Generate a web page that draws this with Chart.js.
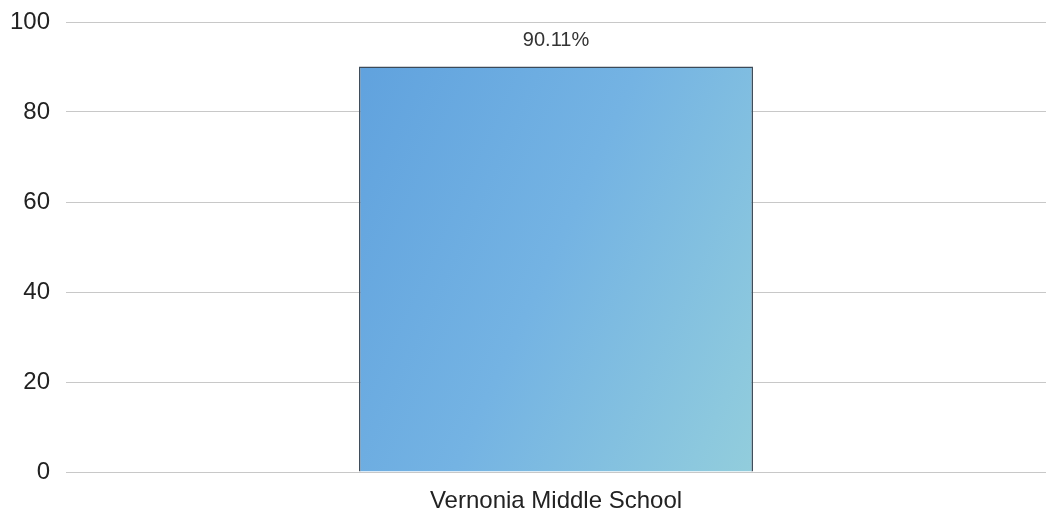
<!DOCTYPE html>
<html>
<head>
<meta charset="utf-8">
<script src="https://cdn.jsdelivr.net/npm/chart.js@4/dist/chart.umd.min.js"></script>
<style>
  html, body { margin: 0; padding: 0; background: #fff; }
  #wrap { width: 1046px; height: 516px; }
</style>
</head>
<body>
<div id="wrap"><canvas id="chart"></canvas></div>
<script>
const categories = ['Vernonia Middle School'];
const values = [90.11];
const yTicks = [0, 20, 40, 60, 80, 100];

// gradient fill like the original (blue top-left -> teal bottom-right)
function barFill(ctx) {
    const chart = ctx.chart;
    const area = chart.chartArea;
    if (!area) return '#72b2e2';
    const el = ctx.element;
    let x0 = area.left, x1 = area.right, y0 = area.top, y1 = area.bottom;
    if (el && el.width) {
        x0 = el.x - el.width / 2; x1 = el.x + el.width / 2;
        y0 = el.y; y1 = el.base;
    }
    const g = chart.ctx.createLinearGradient(x0, y0, x1, y1);
    g.addColorStop(0, '#4a8fd8');
    g.addColorStop(0.5, '#74b3e3');
    g.addColorStop(0.7, '#8cc8de');
    g.addColorStop(1, '#aee4d2');
    return g;
}

const valueLabels = {
    id: 'valueLabels',
    afterDatasetsDraw(chart) {
        const ctx = chart.ctx;
        const meta = chart.getDatasetMeta(0);
        ctx.save();
        ctx.font = '20px "Liberation Sans", Arial, sans-serif';
        ctx.fillStyle = '#333';
        ctx.textAlign = 'center';
        ctx.textBaseline = 'middle';
        meta.data.forEach((bar, i) => {
            ctx.fillText(values[i].toFixed(2) + '%', bar.x, bar.y - 26);
        });
        ctx.restore();
    }
};

new Chart(document.getElementById('chart'), {
    type: 'bar',
    data: {
        labels: categories,
        datasets: [{
            data: values,
            backgroundColor: barFill,
            borderColor: '#3c4a58',
            borderWidth: 1.5,
            barPercentage: 0.402,
            categoryPercentage: 1
        }]
    },
    options: {
        responsive: true,
        maintainAspectRatio: false,
        animation: false,
        layout: { padding: { top: 0, right: 0, left: 10, bottom: 0 } },
        plugins: { legend: { display: false }, tooltip: { enabled: false } },
        scales: {
            x: {
                afterFit: axis => { axis.height = 44; },
                grid: { display: false },
                border: { display: false },
                ticks: {
                    color: '#222',
                    font: { size: 24, family: '"Liberation Sans", Arial, sans-serif' },
                    padding: 7
                }
            },
            y: {
                min: 0,
                max: 100,
                afterBuildTicks: axis => { axis.ticks = yTicks.map(v => ({ value: v })); },
                afterFit: axis => { axis.width = 56; axis.paddingTop = 22; },
                grid: { color: '#c8c8c8', drawTicks: false },
                border: { display: false },
                ticks: {
                    color: '#222',
                    font: { size: 24, family: '"Liberation Sans", Arial, sans-serif' },
                    padding: 16
                }
            }
        }
    },
    plugins: [valueLabels]
});
</script>
</body>
</html>
